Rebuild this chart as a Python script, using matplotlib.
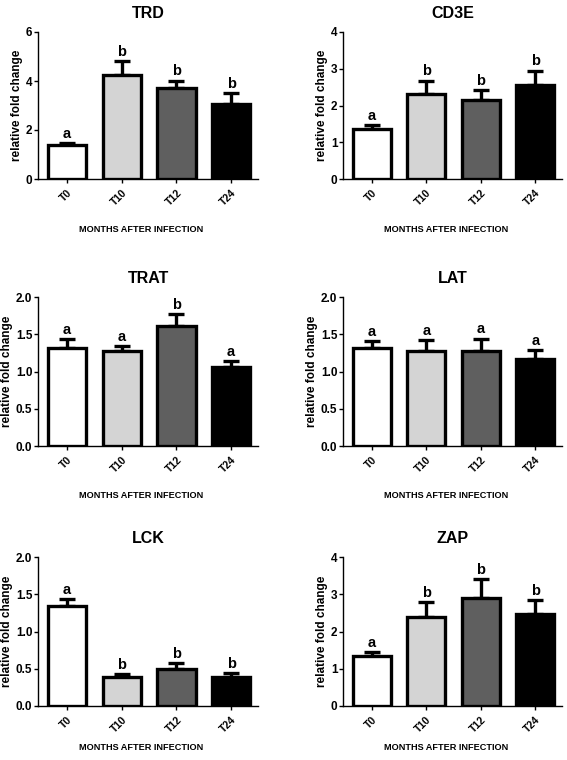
import numpy as np
import matplotlib
matplotlib.use("Agg")
import matplotlib.pyplot as plt

plt.rcParams["font.family"] = ["Liberation Sans", "DejaVu Sans"]
plt.rcParams["font.weight"] = "bold"

CATEGORIES = ["T0", "T10", "T12", "T24"]
BAR_COLORS = ["white", "#d4d4d4", "#5f5f5f", "black"]

trd_mean = [1.37, 4.24, 3.70, 3.06]
trd_err = [0.09, 0.57, 0.32, 0.46]
trd_letters = ["a", "b", "b", "b"]

cd3e_mean = [1.36, 2.30, 2.15, 2.57]
cd3e_err = [0.10, 0.38, 0.26, 0.38]
cd3e_letters = ["a", "b", "b", "b"]

trat_mean = [1.32, 1.28, 1.61, 1.06]
trat_err = [0.11, 0.06, 0.16, 0.08]
trat_letters = ["a", "a", "b", "a"]

lat_mean = [1.32, 1.27, 1.28, 1.17]
lat_err = [0.09, 0.15, 0.16, 0.12]
lat_letters = ["a", "a", "a", "a"]

lck_mean = [1.34, 0.39, 0.49, 0.39]
lck_err = [0.09, 0.04, 0.09, 0.05]
lck_letters = ["a", "b", "b", "b"]

zap_mean = [1.34, 2.40, 2.89, 2.46]
zap_err = [0.11, 0.38, 0.51, 0.38]
zap_letters = ["a", "b", "b", "b"]

y_ticks = {
    "TRD": [0, 2, 4, 6],
    "CD3E": [0, 1, 2, 3, 4],
    "TRAT": [0.0, 0.5, 1.0, 1.5, 2.0],
    "LAT": [0.0, 0.5, 1.0, 1.5, 2.0],
    "LCK": [0.0, 0.5, 1.0, 1.5, 2.0],
    "ZAP": [0, 1, 2, 3, 4],
}

panels = [
    ("TRD", trd_mean, trd_err, trd_letters),
    ("CD3E", cd3e_mean, cd3e_err, cd3e_letters),
    ("TRAT", trat_mean, trat_err, trat_letters),
    ("LAT", lat_mean, lat_err, lat_letters),
    ("LCK", lck_mean, lck_err, lck_letters),
    ("ZAP", zap_mean, zap_err, zap_letters),
]

W, H = 567, 760
fig = plt.figure(figsize=(W / 100, H / 100), dpi=100)

# axes boxes in pixels: (left, right), (top, bottom)
col_x = [(38, 258), (343, 562)]
row_y = [(32, 179), (297, 446), (557, 706)]
# distance (px) from x axis line down to the centre of the x label, per row
xlabel_drop = [51, 49, 41]


def draw_panel(ax, name, means, errs, letters, ticks, drop_frac):
    x = np.arange(len(CATEGORIES))
    ax.bar(x, means, width=0.7, color=BAR_COLORS, edgecolor="black",
           linewidth=2.4, zorder=2)
    ax.errorbar(x, means, yerr=[np.zeros(len(errs)), errs], fmt="none",
                ecolor="black", elinewidth=2.4, capsize=6, capthick=2.4, zorder=1)
    ymax = ticks[-1]
    for xi, m, e, lab in zip(x, means, errs, letters):
        ax.text(xi, m + e + ymax * 0.015, lab, ha="center", va="bottom",
                fontsize=10.5, fontweight="bold")
    ax.set_xlim(-0.53, 3.49)
    ax.set_ylim(0, ymax)
    ax.set_yticks(ticks)
    if isinstance(ticks[1], float):
        ax.set_yticklabels([f"{t:.1f}" for t in ticks])
    ax.set_xticks(x)
    ax.set_xticklabels(CATEGORIES, rotation=45, ha="right",
                       rotation_mode="anchor", fontsize=7.5)
    ax.tick_params(axis="y", labelsize=8.5, length=3, width=1, pad=1)
    ax.tick_params(axis="x", length=3, width=1, pad=3)
    for s in ["top", "right"]:
        ax.spines[s].set_visible(False)
    for s in ["left", "bottom"]:
        ax.spines[s].set_linewidth(1)
    ax.set_title(name, fontsize=11.5, fontweight="bold", pad=10)
    ax.set_ylabel("relative fold change", fontsize=8.5, fontweight="bold", labelpad=2)
    ax.set_xlabel("MONTHS AFTER INFECTION", fontsize=6.6, fontweight="bold",
                  va="center")
    ax.xaxis.set_label_coords(0.47, -drop_frac)


for i, (name, means, errs, letters) in enumerate(panels):
    r, c = divmod(i, 2)
    x0, x1 = col_x[c]
    y0, y1 = row_y[r]
    ax = fig.add_axes([x0 / W, 1 - y1 / H, (x1 - x0) / W, (y1 - y0) / H])
    draw_panel(ax, name, means, errs, letters, y_ticks[name],
               xlabel_drop[r] / (y1 - y0))

fig.savefig("out.png", dpi=100)
